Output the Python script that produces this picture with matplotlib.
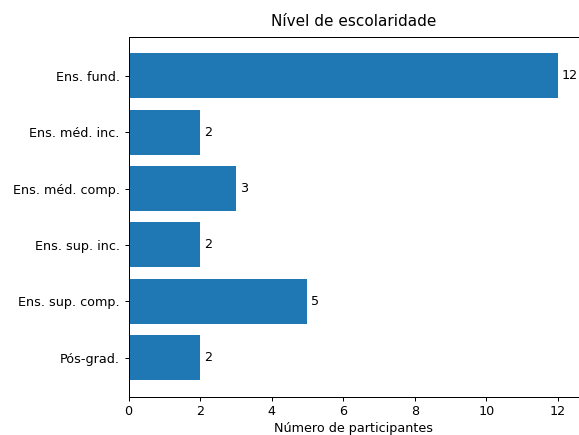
import matplotlib
matplotlib.use('Agg')
from matplotlib import pyplot as plt

categorias = ['Ens. fund.', 'Ens. méd. inc.', 'Ens. méd. comp.',
              'Ens. sup. inc.', 'Ens. sup. comp.', 'Pós-grad.']
participantes = [12, 2, 3, 2, 5, 2]

plt.rcParams['font.size'] = 10.2

fig = plt.figure(figsize=(579 / 90, 435 / 90), dpi=90)
ax = fig.add_axes([128.5 / 579, 38.5 / 435, 451 / 579, 359.5 / 435])
bars = ax.barh(categorias, participantes, color='#1f77b4')
ax.bar_label(bars, padding=3)
ax.invert_yaxis()
ax.set_title('Nível de escolaridade', fontsize=12.2, pad=8.5)
ax.set_xlabel('Número de participantes', labelpad=3)
fig.savefig('out.png', dpi=90)
